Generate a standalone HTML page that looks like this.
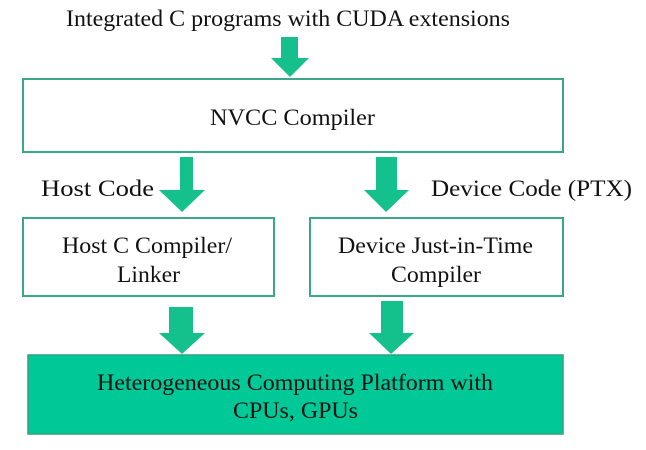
<!DOCTYPE html>
<html><head><meta charset="utf-8"><style>
html,body{margin:0;padding:0;background:#fff;}
svg{display:block;}
text{font-family:"Liberation Serif",serif;font-size:23px;fill:#111;}
</style></head><body>
<svg width="646" height="450" viewBox="0 0 646 450" xmlns="http://www.w3.org/2000/svg">
<g fill="#14c08c">
<polygon points="281,37 298,37 298,58 309,58 290,77 271,58 281,58"/>
<polygon points="180,157 193,157 193,190 205,190 182,212 159,190 180,190"/>
<polygon points="376,157 397,157 397,190 409,190 386,212 364,190 376,190"/>
<polygon points="169,307 193,307 193,333 205,333 182,354 159,333 169,333"/>
<polygon points="381,301 403,301 403,333 414,333 391,354 369,333 381,333"/>
</g>
<g fill="#fff" stroke="#3aa888" stroke-width="2">
<rect x="23" y="79" width="540" height="73"/>
<rect x="23" y="218" width="251" height="78"/>
<rect x="310" y="218" width="253" height="78"/>
</g>
<rect x="28" y="355" width="535" height="79" fill="#00c896" stroke="#2aa37f" stroke-width="1.5"/>
<text x="66" y="26" textLength="444" lengthAdjust="spacingAndGlyphs">Integrated C programs with CUDA extensions</text>
<text x="210" y="125" textLength="165" lengthAdjust="spacingAndGlyphs">NVCC Compiler</text>
<text x="41" y="196" textLength="113" lengthAdjust="spacingAndGlyphs">Host Code</text>
<text x="431" y="196" textLength="201" lengthAdjust="spacingAndGlyphs">Device Code (PTX)</text>
<text x="62" y="253" textLength="170" lengthAdjust="spacingAndGlyphs">Host C Compiler/</text>
<text x="117" y="282" textLength="63" lengthAdjust="spacingAndGlyphs">Linker</text>
<text x="338" y="253" textLength="195" lengthAdjust="spacingAndGlyphs">Device Just-in-Time</text>
<text x="391" y="282" textLength="90" lengthAdjust="spacingAndGlyphs">Compiler</text>
<text x="97" y="390" textLength="396" lengthAdjust="spacingAndGlyphs">Heterogeneous Computing Platform with</text>
<text x="233" y="418" textLength="125" lengthAdjust="spacingAndGlyphs">CPUs, GPUs</text>
</svg>
</body></html>
